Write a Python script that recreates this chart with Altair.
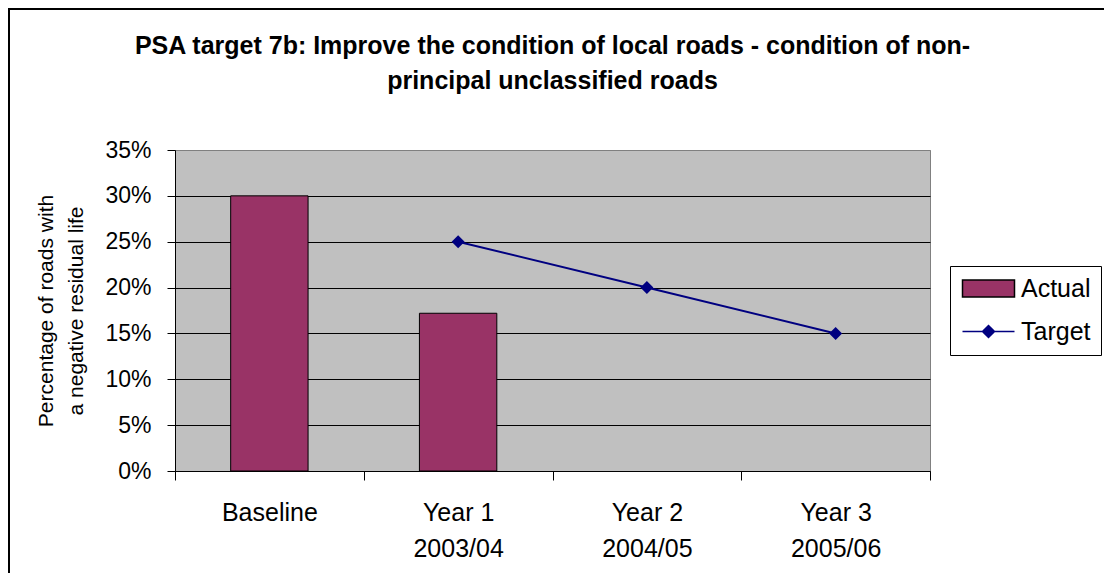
import altair as alt
import pandas as pd

# ---- data ----
categories = ["Baseline", "Year 1", "Year 2", "Year 3"]
periods = ["", "2003/04", "2004/05", "2005/06"]
actual = [0.30, 0.172, None, None]
target = [None, 0.25, 0.20, 0.15]
series_names = ["Actual", "Target"]
y_ticks = [0.0, 0.05, 0.10, 0.15, 0.20, 0.25, 0.30, 0.35]

labels = [c if p == "" else c + "|" + p for c, p in zip(categories, periods)]

rows = []
for lab, a, t in zip(labels, actual, target):
    if a is not None:
        rows.append({"label": lab, "series": "Actual", "value": a})
    if t is not None:
        rows.append({"label": lab, "series": "Target", "value": t})
df = pd.DataFrame(rows)

FONT = "Liberation Sans"
MAROON = "#993366"
NAVY = "#000080"

# legend symbol paths (unit box = 20px); drawn wider than the box
ACTUAL_PATH = "M-1,-0.85H4.2V0.85H-1Z"
TARGET_PATH = "M-1,0H4.2M1.6,-0.6L2.2,0L1.6,0.6L1,0Z"

fill_scale = alt.Scale(domain=series_names, range=[MAROON, NAVY])
stroke_scale = alt.Scale(domain=series_names, range=["black", NAVY])
shape_scale = alt.Scale(domain=series_names, range=[ACTUAL_PATH, TARGET_PATH])

x_enc = alt.X(
    "label:N",
    sort=labels,
    scale=alt.Scale(domain=labels, paddingInner=0, paddingOuter=0),
    axis=alt.Axis(
        title=None,
        labelAngle=0,
        labelExpr="split(datum.label, '|')",
        labelFont=FONT,
        labelFontSize=25,
        labelColor="black",
        labelLineHeight=36,
        labelPadding=20,
        tickBand="extent",
        tickSize=9,
        tickColor="black",
        tickWidth=1,
        domainColor="black",
        domainWidth=1,
        grid=False,
    ),
)

y_enc = alt.Y(
    "value:Q",
    scale=alt.Scale(domain=[0, 0.35], nice=False, zero=True),
    axis=alt.Axis(
        title=["Percentage of roads with", "a negative residual life"],
        titleFont=FONT,
        titleFontSize=21,
        titleFontWeight="normal",
        titleColor="black",
        titleLineHeight=30,
        titlePadding=18,
        values=y_ticks,
        format=".0%",
        labelFont=FONT,
        labelFontSize=23,
        labelColor="black",
        labelPadding=16,
        tickSize=8,
        tickColor="black",
        domainColor="black",
        grid=True,
        gridColor={"condition": {"test": "datum.value >= 0.35", "value": "#808080"}, "value": "black"},
        gridWidth=1,
        gridOpacity=1,
    ),
)

base = alt.Chart(df)

bars = base.transform_filter("datum.series == 'Actual'").mark_bar(
    stroke="black", strokeWidth=1, width=alt.RelativeBandSize(0.41)
).encode(
    x=x_enc,
    y=y_enc,
    fill=alt.Fill("series:N", scale=fill_scale, title=None),
)

line = base.transform_filter("datum.series == 'Target'").mark_line(
    strokeWidth=2
).encode(
    x=x_enc,
    y=y_enc,
    stroke=alt.Stroke("series:N", scale=stroke_scale, title=None),
)

points = base.transform_filter("datum.series == 'Target'").mark_point(
    shape="diamond", filled=True, fill=NAVY, size=170, opacity=1, strokeWidth=0
).encode(x=x_enc, y=y_enc)

# legend carrier: no marks drawn, only provides the shape scale for the legend
legend_layer = base.transform_filter("false").mark_point(filled=True).encode(
    x=x_enc,
    y=y_enc,
    shape=alt.Shape("series:N", scale=shape_scale, title=None),
    fill=alt.Fill("series:N", scale=fill_scale, title=None),
    stroke=alt.Stroke("series:N", scale=stroke_scale, title=None),
)

frame = alt.Chart(alt.Data(values=[{}])).mark_rect(
    fill=None, stroke="black", strokeWidth=2
).encode(
    x=alt.value(-166), x2=alt.value(1000), y=alt.value(-141), y2=alt.value(500)
)

chart = alt.layer(frame, bars, line, points, legend_layer).properties(
    width=755,
    height=321,
    padding={"left": 167, "top": 142, "right": 174, "bottom": 102},
    autosize=alt.AutoSizeParams(type="none"),
    background="white",
    title=alt.Title(
        text=[
            "PSA target 7b: Improve the condition of local roads - condition of non-",
            "principal unclassified roads",
        ],
        font=FONT,
        fontSize=25,
        fontWeight="bold",
        color="black",
        lineHeight=35,
        anchor="middle",
        offset=0,
        dy=86,
    ),
).configure_view(
    fill="#C0C0C0", stroke="#808080", strokeWidth=1
).configure_legend(
    orient="none",
    legendX=775,
    legendY=116,
    padding=10,
    strokeColor="black",
    strokeWidth=1,
    fillColor="white",
    labelFont=FONT,
    labelFontSize=25,
    labelColor="black",
    labelOffset=36,
    symbolSize=400,
    symbolStrokeWidth=1.5,
    rowPadding=17,
    symbolOpacity=1,
    titleFontSize=0,
    titlePadding=0,
)

chart.save("out.html", embed_options={"renderer": "svg", "actions": False})
